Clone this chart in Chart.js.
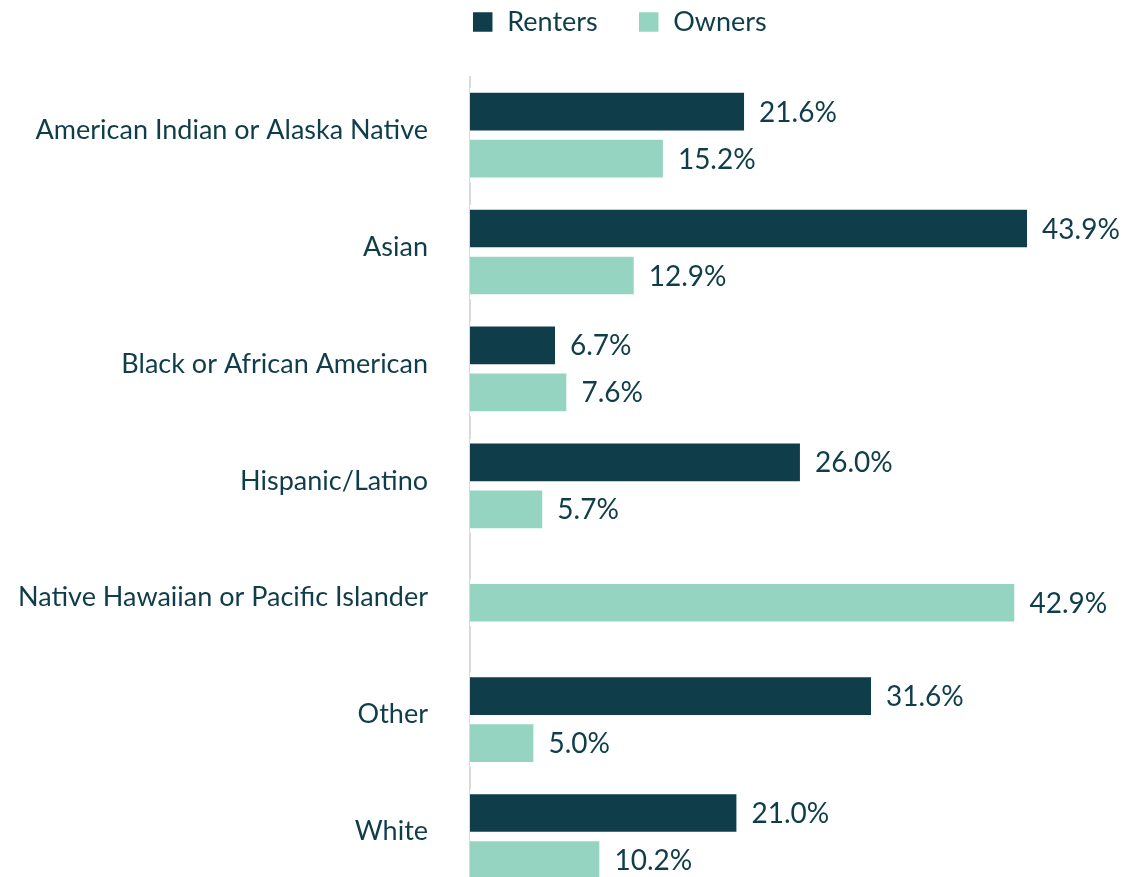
<!DOCTYPE html>
<html>
<head>
<meta charset="utf-8">
<script src="https://cdn.jsdelivr.net/npm/chart.js@4/dist/chart.umd.min.js"></script>
<style>
html,body{margin:0;padding:0;background:#fff;overflow:hidden;}
canvas{display:block;}
</style>
</head>
<body>
<canvas id="c" width="1123" height="896"></canvas>
<script>
const categories = [
  "American Indian or Alaska Native",
  "Asian",
  "Black or African American",
  "Hispanic/Latino",
  "Native Hawaiian or Pacific Islander",
  "Other",
  "White"
];
const renters = [21.6, 43.9, 6.7, 26.0, null, 31.6, 21.0];
const owners  = [15.2, 12.9, 7.6, 5.7, 42.9, 5.0, 10.2];
const seriesNames = ["Renters", "Owners"];

const DARK = "#0f3d4a";
const LIGHT = "#95d4c0";
const FONT = "Lato, 'Open Sans', sans-serif";
const LEGEND_SHIFT = 67;

const valueLabels = {
  id: "valueLabels",
  afterLayout(chart) {
    if (chart.legend) {
      chart.legend.left += LEGEND_SHIFT;
      chart.legend.right += LEGEND_SHIFT;
    }
  },
  afterDatasetsDraw(chart) {
    const ctx = chart.ctx;
    ctx.save();
    ctx.font = "28px " + FONT;
    ctx.fillStyle = DARK;
    ctx.textBaseline = "middle";
    ctx.textAlign = "left";
    chart.data.datasets.forEach((ds, di) => {
      const meta = chart.getDatasetMeta(di);
      meta.data.forEach((bar, i) => {
        const v = ds.data[i];
        if (v === null || v === undefined) return;
        ctx.fillText(v.toFixed(1) + "%", bar.x + 15, bar.y + 1);
      });
    });
    ctx.restore();
  }
};

const barStyle = {
  barThickness: 47,
  borderColor: "#ffffff",
  borderWidth: { top: 5, bottom: 5, left: 0, right: 0 },
  borderSkipped: false
};

new Chart(document.getElementById("c"), {
  type: "bar",
  data: {
    labels: categories,
    datasets: [
      Object.assign({ label: seriesNames[0], data: renters, backgroundColor: DARK }, barStyle),
      Object.assign({ label: seriesNames[1], data: owners, backgroundColor: LIGHT }, barStyle)
    ]
  },
  options: {
    indexAxis: "y",
    responsive: false,
    animation: false,
    skipNull: true,
    layout: { padding: { top: -31.5, right: 18.5, bottom: 1, left: 0 } },
    plugins: {
      legend: {
        display: true,
        position: "top",
        labels: {
          boxWidth: 22,
          boxHeight: 22,
          padding: 40,
          color: DARK,
          font: { family: FONT, size: 27 }
        }
      },
      subtitle: {
        display: true,
        text: " ",
        position: "top",
        weight: 500,
        font: { size: 10, lineHeight: 1 },
        padding: { top: 0, bottom: 21.1 }
      },
      tooltip: { enabled: false }
    },
    scales: {
      x: { display: false, min: 0, max: 50, grid: { display: false } },
      y: {
        afterFit(scale) {
          scale.width = 470;
          scale.paddingTop = 0;
          scale.paddingBottom = 0;
        },
        grid: { display: false, drawTicks: false },
        border: { display: true, color: "#d9d9d9", width: 2 },
        ticks: { color: DARK, padding: 42, labelOffset: -5, font: { family: FONT, size: 27 } }
      }
    }
  },
  plugins: [valueLabels]
});
</script>
</body>
</html>
